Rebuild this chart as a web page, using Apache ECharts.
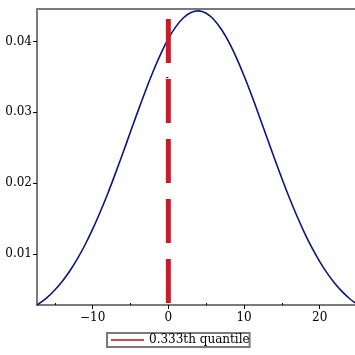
<!DOCTYPE html>
<html>
<head>
<meta charset="utf-8">
<script src="https://cdn.jsdelivr.net/npm/echarts@6/dist/echarts.min.js"></script>
<style>html,body{margin:0;padding:0;background:#fff}#c{width:355px;height:355px}</style>
</head>
<body>
<div id="c"></div>
<script>
// Data
const curveX = [-17.35, -16, -15, -14, -13, -12, -11, -10, -9, -8, -7, -6, -5, -4, -3, -2, -1, 0, 1, 2, 3, 4, 5, 6, 7, 8, 9, 10, 11, 12, 13, 14, 15, 16, 17, 18, 19, 20, 21, 22, 23, 24, 24.66];
const curveY = [0.00277, 0.00387, 0.00491, 0.00616, 0.00763, 0.00934, 0.01130, 0.01350, 0.01592, 0.01855, 0.02135, 0.02427, 0.02725, 0.03021, 0.03309, 0.03581, 0.03827, 0.04040, 0.04211, 0.04337, 0.04412, 0.04433, 0.04399, 0.04311, 0.04174, 0.03992, 0.03770, 0.03518, 0.03242, 0.02950, 0.02653, 0.02356, 0.02066, 0.01790, 0.01532, 0.01295, 0.01081, 0.00892, 0.00726, 0.00584, 0.00464, 0.00364, 0.00310];
const quantileX = [0, 0];
const quantileY = [0.04317, 0.00279];
const quantileName = '0.333th quantile';
const xTickLabels = [-10, 0, 10, 20];
const xMinorTicks = [-15, -5, 5, 15];
const yTickLabels = [0.01, 0.02, 0.03, 0.04];
const yMinorTicks = [0.005, 0.015, 0.025, 0.035];
const xRange = [-17.35, 24.66];
const yRange = [0.00279, 0.0446];

const FONT = 'DejaVu Serif';
const AXIS_COLOR = '#7a7a7a';

const chart = echarts.init(document.getElementById('c'), null, {renderer: 'canvas'});
const fmtX = v => (v < 0 ? '\u2212' + Math.abs(v) : String(v));

chart.setOption({
  animation: false,
  backgroundColor: '#fff',
  grid: {left: 37, right: 0, top: 9, bottom: 50, containLabel: false},
  xAxis: [
    {
      type: 'value', min: xRange[0], max: xRange[1], position: 'bottom',
      axisLine: {show: true, onZero: false, lineStyle: {color: AXIS_COLOR, width: 2}},
      axisTick: {show: true, customValues: xTickLabels, length: 4, lineStyle: {color: '#000', width: 1}},
      axisLabel: {show: true, customValues: xTickLabels, formatter: fmtX, margin: 7, fontFamily: FONT, fontSize: 12, color: '#000'},
      splitLine: {show: false}
    },
    {
      type: 'value', min: xRange[0], max: xRange[1], position: 'bottom',
      axisLine: {show: false},
      axisTick: {show: true, inside: true, customValues: xMinorTicks, length: 2, lineStyle: {color: '#000', width: 1}},
      axisLabel: {show: false},
      splitLine: {show: false}
    },
    {
      type: 'value', min: xRange[0], max: xRange[1], position: 'top',
      axisLine: {show: true, onZero: false, lineStyle: {color: AXIS_COLOR, width: 2}},
      axisTick: {show: false}, axisLabel: {show: false}, splitLine: {show: false}
    }
  ],
  yAxis: [
    {
      type: 'value', min: yRange[0], max: yRange[1], position: 'left',
      axisLine: {show: true, onZero: false, lineStyle: {color: AXIS_COLOR, width: 2}},
      axisTick: {show: true, customValues: yTickLabels, length: 4, lineStyle: {color: '#000', width: 1}},
      axisLabel: {show: true, customValues: yTickLabels, margin: 5, fontFamily: FONT, fontSize: 12, color: '#000', formatter: v => v.toFixed(2)},
      splitLine: {show: false}
    },
    {
      type: 'value', min: yRange[0], max: yRange[1], position: 'left',
      axisLine: {show: false},
      axisTick: {show: true, customValues: yMinorTicks, length: 2, lineStyle: {color: '#000', width: 1}},
      axisLabel: {show: false},
      splitLine: {show: false}
    }
  ],
  legend: {
    show: true, left: 107, top: 333,
    padding: [1, 0, 1, 4],
    itemWidth: 33, itemHeight: 2,
    borderColor: AXIS_COLOR, borderWidth: 2, borderRadius: 0,
    textStyle: {fontFamily: FONT, fontSize: 12, color: '#000'},
    data: [{name: quantileName, icon: 'rect', itemStyle: {color: '#cc4a50'}}]
  },
  series: [
    {
      name: 'density', type: 'line', xAxisIndex: 0, yAxisIndex: 0,
      data: curveX.map((x, i) => [x, curveY[i]]),
      smooth: 0.3, showSymbol: false, symbol: 'none',
      lineStyle: {color: '#0a1580', width: 1.6}
    },
    {
      name: quantileName, type: 'line', xAxisIndex: 0, yAxisIndex: 0,
      data: quantileX.map((x, i) => [x, quantileY[i]]),
      showSymbol: false, symbol: 'none',
      lineStyle: {color: '#c41e2a', width: 5, type: [44, 16], cap: 'butt'},
      itemStyle: {color: '#cc4a50'}
    }
  ]
});
</script>
</body>
</html>
